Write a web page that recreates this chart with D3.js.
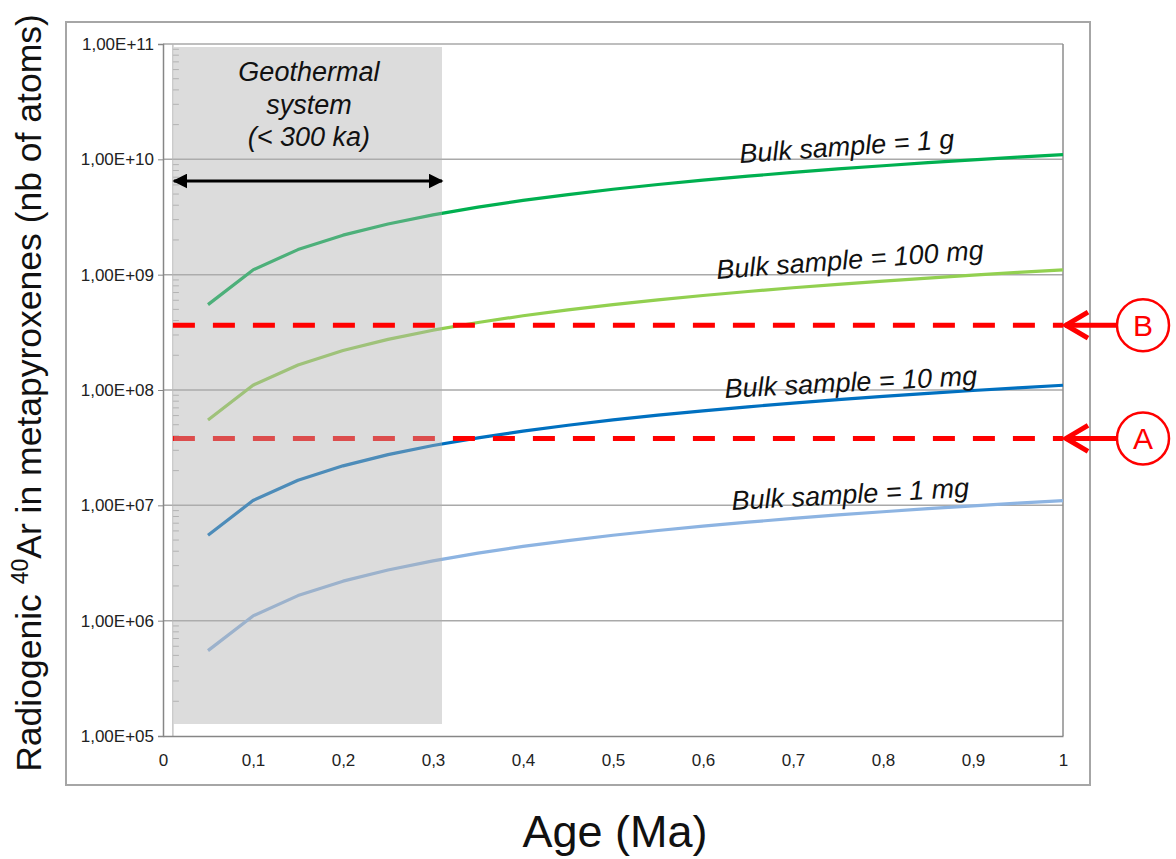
<!DOCTYPE html>
<html>
<head>
<meta charset="utf-8">
<script src="https://cdn.jsdelivr.net/npm/d3@7"></script>
<style>
  body { margin: 0; background: #fff; }
  svg { display: block; font-family: "Liberation Sans", Arial, sans-serif; }
</style>
</head>
<body>
<svg id="chart" width="1176" height="859"></svg>
<script>
// ---- data ----
const ages = [0.05, 0.1, 0.15, 0.2, 0.25, 0.3, 0.35, 0.4, 0.45, 0.5, 0.55, 0.6, 0.65, 0.7, 0.75, 0.8, 0.85, 0.9, 0.95, 1.0];
const bulk1g   = [5.5e8, 1.1e9, 1.65e9, 2.2e9, 2.75e9, 3.3e9, 3.85e9, 4.4e9, 4.95e9, 5.5e9, 6.05e9, 6.6e9, 7.15e9, 7.7e9, 8.25e9, 8.8e9, 9.35e9, 9.9e9, 1.045e10, 1.1e10];
const bulk100mg = [5.5e7, 1.1e8, 1.65e8, 2.2e8, 2.75e8, 3.3e8, 3.85e8, 4.4e8, 4.95e8, 5.5e8, 6.05e8, 6.6e8, 7.15e8, 7.7e8, 8.25e8, 8.8e8, 9.35e8, 9.9e8, 1.045e9, 1.1e9];
const bulk10mg  = [5.5e6, 1.1e7, 1.65e7, 2.2e7, 2.75e7, 3.3e7, 3.85e7, 4.4e7, 4.95e7, 5.5e7, 6.05e7, 6.6e7, 7.15e7, 7.7e7, 8.25e7, 8.8e7, 9.35e7, 9.9e7, 1.045e8, 1.1e8];
const bulk1mg   = [5.5e5, 1.1e6, 1.65e6, 2.2e6, 2.75e6, 3.3e6, 3.85e6, 4.4e6, 4.95e6, 5.5e6, 6.05e6, 6.6e6, 7.15e6, 7.7e6, 8.25e6, 8.8e6, 9.35e6, 9.9e6, 1.045e7, 1.1e7];
const seriesNames = ["Bulk sample = 1 g", "Bulk sample = 100 mg", "Bulk sample = 10 mg", "Bulk sample = 1 mg"];
const xTicks = [0, 0.1, 0.2, 0.3, 0.4, 0.5, 0.6, 0.7, 0.8, 0.9, 1];
const yTicks = [1e5, 1e6, 1e7, 1e8, 1e9, 1e10, 1e11];
const yTickLabels = ["1,00E+05", "1,00E+06", "1,00E+07", "1,00E+08", "1,00E+09", "1,00E+10", "1,00E+11"];
const thresholdB = 3.65e8;
const thresholdA = 3.8e7;
const geoRange = [0.012, 0.31];
const geoText = ["Geothermal", "system", "(< 300 ka)"];

// ---- layout ----
const svg = d3.select("#chart");
const L = 163, R = 1063, T = 44, B = 736;
const x = d3.scaleLinear().domain([0, 1]).range([L, R]);
const y = d3.scaleLog().domain([1e5, 1e11]).range([B, T]);

// outer frame
svg.append("rect").attr("x", 66).attr("y", 22).attr("width", 1024).attr("height", 763)
  .attr("fill", "#fff").attr("stroke", "#a6a6a6").attr("stroke-width", 2);

// gridlines
svg.append("g").selectAll("line").data(yTicks.slice(1)).join("line")
  .attr("x1", L).attr("x2", R).attr("y1", d => y(d)).attr("y2", d => y(d))
  .attr("stroke", "#a9a9a9").attr("stroke-width", 1.5);
// right border
svg.append("line").attr("x1", R).attr("x2", R).attr("y1", T).attr("y2", B)
  .attr("stroke", "#8c8c8c").attr("stroke-width", 1.5);

// secondary left line with minor ticks
const x2 = x(0.011);
svg.append("line").attr("x1", x2).attr("x2", x2).attr("y1", T).attr("y2", B)
  .attr("stroke", "#b5b5b5").attr("stroke-width", 1.2);
const minor = [];
for (let e = 5; e < 11; e++) for (let k = 2; k <= 9; k++) minor.push(k * Math.pow(10, e));
svg.append("g").selectAll("line").data(minor).join("line")
  .attr("x1", x2).attr("x2", x2 + 6).attr("y1", d => y(d)).attr("y2", d => y(d))
  .attr("stroke", "#b5b5b5").attr("stroke-width", 1);

// axes
const yAxis = d3.axisLeft(y).tickValues(yTicks).tickFormat((d, i) => yTickLabels[i]).tickSize(5).tickPadding(4);
const gy = svg.append("g").attr("transform", `translate(${L},0)`).call(yAxis);
gy.select(".domain").attr("stroke", "#868686").attr("stroke-width", 1.5);
gy.selectAll(".tick line").attr("stroke", "#868686");
gy.selectAll(".tick text").attr("font-size", 17).attr("fill", "#222").attr("font-family", "Liberation Sans, Arial, sans-serif");

const xAxis = d3.axisBottom(x).tickValues(xTicks).tickFormat(d => String(d).replace(".", ",")).tickSize(0).tickPadding(18);
const gx = svg.append("g").attr("transform", `translate(0,${B})`).call(xAxis);
gx.select(".domain").attr("stroke", "#868686").attr("stroke-width", 1.5);
gx.selectAll(".tick text").attr("font-size", 17).attr("fill", "#222").attr("font-family", "Liberation Sans, Arial, sans-serif");

// series
const line = d3.line().x(d => x(d[0])).y(d => y(d[1]));
const seriesData = [bulk1g, bulk100mg, bulk10mg, bulk1mg];
const colors = ["#00b050", "#92d050", "#0070c0", "#8db4e2"];
svg.append("g").selectAll("path").data(seriesData).join("path")
  .attr("d", s => line(ages.map((a, i) => [a, s[i]])))
  .attr("fill", "none").attr("stroke", (d, i) => colors[i]).attr("stroke-width", 3.2)
  .attr("stroke-linejoin", "round");

// threshold A (below shade)
function dashed(v) {
  svg.append("line").attr("x1", x2).attr("x2", R).attr("y1", y(v)).attr("y2", y(v))
    .attr("stroke", "#ff0000").attr("stroke-width", 5).attr("stroke-dasharray", "22,18");
}
dashed(thresholdA);

// geothermal shade
svg.append("rect").attr("x", x(geoRange[0])).attr("y", 47)
  .attr("width", x(geoRange[1]) - x(geoRange[0])).attr("height", 724 - 47)
  .attr("fill", "#afafaf").attr("fill-opacity", 0.44);

// threshold B (above shade)
dashed(thresholdB);

// geothermal text
svg.append("g").selectAll("text").data(geoText).join("text")
  .attr("x", x((geoRange[0] + geoRange[1]) / 2) + 1).attr("y", (d, i) => 81 + i * 32.5)
  .attr("text-anchor", "middle").attr("font-size", 27).attr("font-style", "italic")
  .attr("fill", "#111").text(d => d);

// black double arrow
const defs = svg.append("defs");
defs.append("marker").attr("id", "ah").attr("viewBox", "0 0 10 10").attr("refX", 9).attr("refY", 5)
  .attr("markerWidth", 5).attr("markerHeight", 5).attr("markerUnits", "strokeWidth").attr("orient", "auto-start-reverse")
  .append("path").attr("d", "M0,0 L10,5 L0,10 z").attr("fill", "#000");
svg.append("line").attr("x1", x2 + 1).attr("x2", x(geoRange[1])).attr("y1", 181).attr("y2", 181)
  .attr("stroke", "#000").attr("stroke-width", 3)
  .attr("marker-start", "url(#ah)").attr("marker-end", "url(#ah)");

// series labels
const labelPos = [[740, 163, -4], [717, 279, -4.3], [725, 398, -3], [732, 510, -3.2]];
svg.append("g").selectAll("text").data(seriesNames).join("text")
  .attr("transform", (d, i) => `translate(${labelPos[i][0]},${labelPos[i][1]}) rotate(${labelPos[i][2]})`)
  .attr("font-size", 27).attr("font-style", "italic").attr("fill", "#111").text(d => d);

// red arrows with circled letters
const marks = [["B", thresholdB], ["A", thresholdA]];
marks.forEach(([lab, v]) => {
  const yy = y(v);
  const g = svg.append("g").attr("stroke", "#ff0000").attr("fill", "none").attr("stroke-linecap", "butt");
  g.append("line").attr("x1", R + 2).attr("x2", 1117).attr("y1", yy).attr("y2", yy).attr("stroke-width", 5);
  g.append("path").attr("d", `M${R + 25},${yy - 13} L${R + 3},${yy} L${R + 25},${yy + 13}`).attr("stroke-width", 5)
    .attr("stroke-linejoin", "miter");
  g.append("circle").attr("cx", 1143).attr("cy", yy).attr("r", 26).attr("stroke-width", 2.5).attr("fill", "#fff");
  svg.append("text").attr("x", 1143).attr("y", yy + 11).attr("text-anchor", "middle")
    .attr("font-size", 30).attr("fill", "#ff0000").text(lab);
});

// axis titles
const yt = svg.append("text").attr("transform", "translate(41,393) rotate(-90)").attr("text-anchor", "middle")
  .attr("font-size", 35.5).attr("fill", "#111");
yt.append("tspan").text("Radiogenic ");
yt.append("tspan").attr("font-size", 23).attr("dy", -13).text("40");
yt.append("tspan").attr("dy", 13).text("Ar in metapyroxenes (nb of atoms)");

svg.append("text").attr("x", 615).attr("y", 847).attr("text-anchor", "middle")
  .attr("font-size", 45).attr("fill", "#111").text("Age (Ma)");
</script>
</body>
</html>
